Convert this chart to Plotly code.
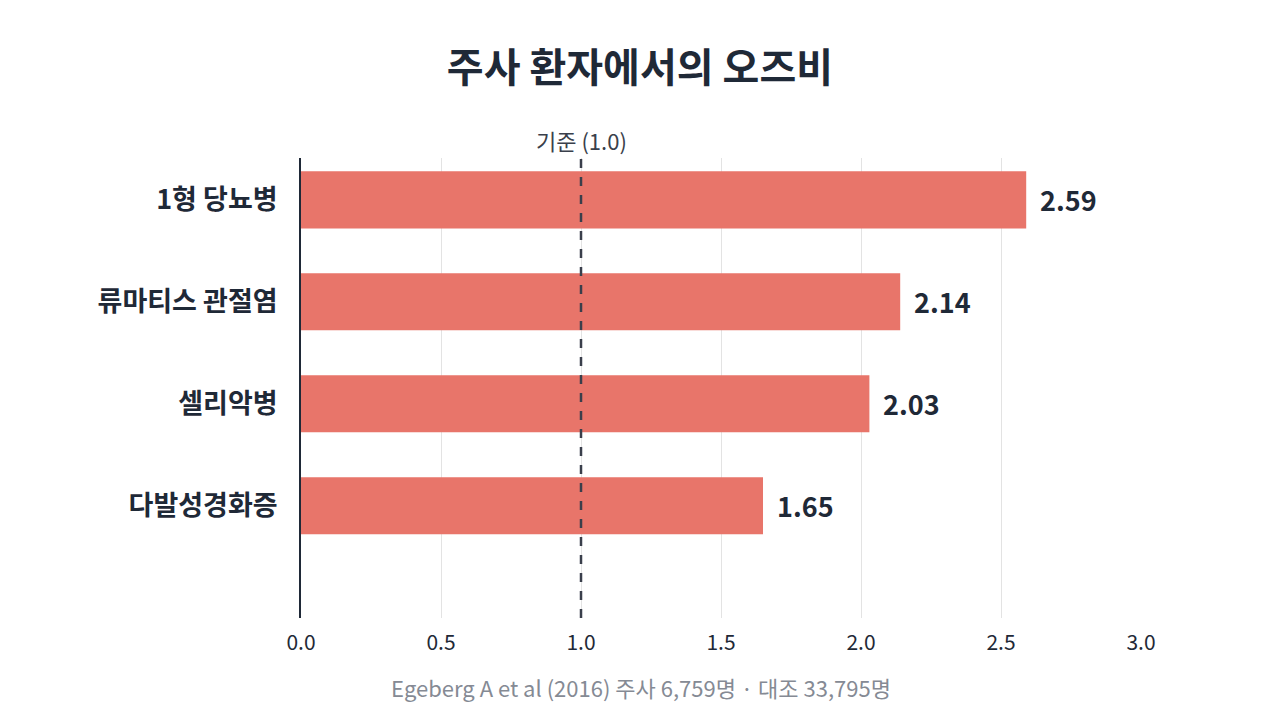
import plotly.graph_objects as go

# ── Data ───────────────────────────────────────────────
conditions = ["1형 당뇨병", "류마티스 관절염", "셀리악병", "다발성경화증"]
odds_ratios = [2.59, 2.14, 2.03, 1.65]
x_ticks = [0.0, 0.5, 1.0, 1.5, 2.0, 2.5, 3.0]
reference_value = 1.0

FONT = "Noto Sans CJK KR"
DARK = "#1f2937"
BAR = "#e8756a"

fig = go.Figure(go.Bar(
    x=odds_ratios, y=conditions, orientation="h",
    marker=dict(color=BAR, line=dict(width=0)),
    width=0.56,
    hoverinfo="skip",
))

# ── Value labels ───────────────────────────────────────
for name, v in zip(conditions, odds_ratios):
    fig.add_annotation(x=v, y=name, xref="x", yref="y",
                       text=f"<b>{v:.2f}</b>", showarrow=False,
                       xanchor="left", xshift=12,
                       font=dict(family=FONT, size=27, color=DARK))

# ── Reference line at OR = 1 ───────────────────────────
fig.add_shape(type="line", xref="x", yref="paper",
              x0=reference_value, x1=reference_value, y0=0, y1=1,
              line=dict(color="#3a3f4b", width=2.5, dash="dash"))
fig.add_annotation(x=reference_value, y=1, xref="x", yref="paper",
                   text=f"기준 ({reference_value:.1f})", showarrow=False,
                   yanchor="middle", yshift=18,
                   font=dict(family=FONT, size=22, color="#3a3f4b"))

# ── Footer ─────────────────────────────────────────────
fig.add_annotation(x=0.405, y=0, xref="paper", yref="paper",
                   text="Egeberg A et al (2016) 주사 6,759명 · 대조 33,795명",
                   showarrow=False, yanchor="middle", yshift=-69,
                   font=dict(family=FONT, size=22, color="#858a94"))

# page body adds an 8px offset, margins compensate for it
fig.update_layout(
    width=1280, height=720,
    title=dict(text="<b>주사 환자에서의 오즈비</b>", x=0.4937, xanchor="center",
               y=0.9167, yanchor="middle",
               font=dict(family=FONT, size=40, color=DARK)),
    plot_bgcolor="white", paper_bgcolor="white",
    margin=dict(l=293, r=147, t=150, b=110, autoexpand=False),
    showlegend=False,
    font=dict(family=FONT, color=DARK),
)
fig.update_xaxes(range=[0, 3.0], tickvals=x_ticks,
                 ticktext=[f"{t:.1f}" for t in x_ticks],
                 showgrid=True, gridcolor="#e3e3e3", gridwidth=1,
                 zeroline=False, showline=False, ticks="", automargin=False,
                 tickfont=dict(family=FONT, size=21, color=DARK),
                 ticklabelstandoff=10)
fig.update_yaxes(categoryorder="array", categoryarray=conditions,
                 range=[4.1, -0.41], showgrid=False, zeroline=False,
                 showline=True, linecolor=DARK, linewidth=2, ticks="",
                 automargin=False, ticklabelstandoff=16,
                 tickfont=dict(family=FONT, size=27, color=DARK),
                 tickprefix="<b>", ticksuffix="</b>")

fig.write_html("out.html")
